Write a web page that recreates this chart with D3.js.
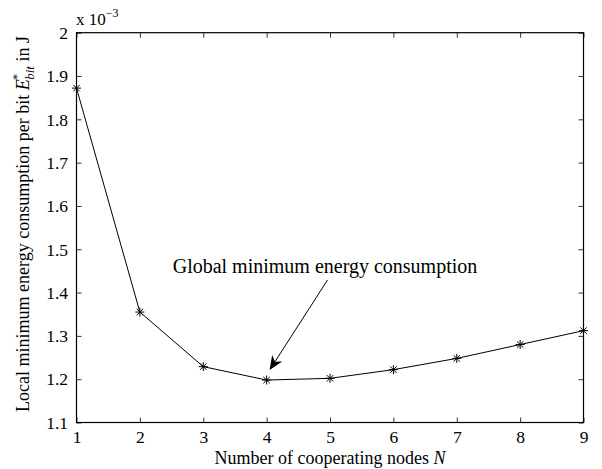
<!DOCTYPE html>
<html><head><meta charset="utf-8">
<script src="https://cdn.jsdelivr.net/npm/d3@7"></script>
<style>body{margin:0;background:#fff}svg{display:block}text{font-family:"Liberation Serif","Times New Roman",serif;fill:#000}</style>
</head><body><svg id="c" width="602" height="469"></svg>
<script>
const nodes = [1,2,3,4,5,6,7,8,9];
const energy = [1.872,1.355,1.229,1.198,1.202,1.222,1.248,1.280,1.312]; // x 1e-3 J
const xTicks = [1,2,3,4,5,6,7,8,9];
const yTicks = [1.1,1.2,1.3,1.4,1.5,1.6,1.7,1.8,1.9,2];
const annotationText = "Global minimum energy consumption";

const svg = d3.select("#c");
const L=76.5,R=583.5,T=32.7,B=422.5;
const x = d3.scaleLinear().domain([1,9]).range([L,R]);
const y = d3.scaleLinear().domain([1.1,2]).range([B,T]);

svg.append("rect").attr("x",L).attr("y",T).attr("width",R-L).attr("height",B-T)
  .attr("fill","none").attr("stroke","#000").attr("stroke-width",1.2);

const fmt = d=>String(+d.toFixed(1));
const xb = svg.append("g").attr("transform",`translate(0,${B})`)
  .call(d3.axisBottom(x).tickValues(xTicks).tickSize(-5).tickPadding(8).tickFormat(d3.format("d")));
const xt = svg.append("g").attr("transform",`translate(0,${T})`)
  .call(d3.axisTop(x).tickValues(xTicks).tickSize(-5).tickFormat(""));
const yl = svg.append("g").attr("transform",`translate(${L},0)`)
  .call(d3.axisLeft(y).tickValues(yTicks).tickSize(-5).tickPadding(8.5).tickFormat(fmt));
const yr = svg.append("g").attr("transform",`translate(${R},0)`)
  .call(d3.axisRight(y).tickValues(yTicks).tickSize(-5).tickFormat(""));
[xb,xt,yl,yr].forEach(g=>{
  g.select(".domain").remove();
  g.selectAll(".tick line").attr("stroke","#000").attr("stroke-width",0.8);
  g.selectAll(".tick text").attr("font-size",17.5).attr("font-family","Liberation Serif").attr("fill","#000");
});
xb.selectAll(".tick text").attr("dy","0.72em");
yl.selectAll(".tick text").attr("dy","0.33em");

const ex = svg.append("text").attr("x",76).attr("y",25).attr("font-size",17);
ex.append("tspan").text("x 10");
ex.append("tspan").attr("dy",-8).attr("font-size",12).text("\u22123");

svg.append("path").datum(nodes.map((n,i)=>[n,energy[i]]))
  .attr("fill","none").attr("stroke","#000").attr("stroke-width",1)
  .attr("d",d3.line().x(d=>x(d[0])).y(d=>y(d[1])));

const s=4.5, d2=s*0.72;
const mk = svg.append("g").selectAll("g").data(nodes.map((n,i)=>[n,energy[i]])).join("g")
  .attr("transform",d=>`translate(${x(d[0])},${y(d[1])})`);
mk.append("path").attr("stroke","#000").attr("stroke-width",1).attr("fill","none")
  .attr("d",`M${-s},0H${s}M0,${-s}V${s}M${-d2},${-d2}L${d2},${d2}M${-d2},${d2}L${d2},${-d2}`);

svg.append("text").attr("x",325).attr("y",273).attr("text-anchor","middle").attr("font-size",20).text(annotationText);
const tipX = x(4)+3, tipY = y(energy[3])-10;
const sx = 327.5, sy = 280;
const ang = Math.atan2(tipY-sy, tipX-sx);
const hl=14, hw=6, back=10;
svg.append("line").attr("x1",sx).attr("y1",sy).attr("x2",tipX-Math.cos(ang)*back).attr("y2",tipY-Math.sin(ang)*back)
  .attr("stroke","#000").attr("stroke-width",1);
const px=-Math.sin(ang), py=Math.cos(ang);
const bx=tipX-Math.cos(ang)*hl, by=tipY-Math.sin(ang)*hl;
const nx=tipX-Math.cos(ang)*back, ny=tipY-Math.sin(ang)*back;
svg.append("path").attr("fill","#000")
  .attr("d",`M${tipX},${tipY}L${bx+px*hw},${by+py*hw}L${nx},${ny}L${bx-px*hw},${by-py*hw}Z`);

svg.append("text").attr("x",(L+R)/2).attr("y",463.5).attr("text-anchor","middle").attr("font-size",18)
  .html('Number of cooperating nodes <tspan font-style="italic">N</tspan>');
const yt = svg.append("text").attr("transform",`translate(29,224) rotate(-90)`).attr("text-anchor","middle").attr("font-size",18);
yt.append("tspan").text("Local minimum energy consumption per bit  ");
yt.append("tspan").attr("font-style","italic").text("E");
yt.append("tspan").attr("font-size",13).attr("dy",-8).attr("dx",-1).text("*");
yt.append("tspan").attr("font-size",13).attr("font-style","italic").attr("dy",13).attr("dx",-6).text("bit");
yt.append("tspan").attr("dy",-5).text(" in J");
</script></body></html>
